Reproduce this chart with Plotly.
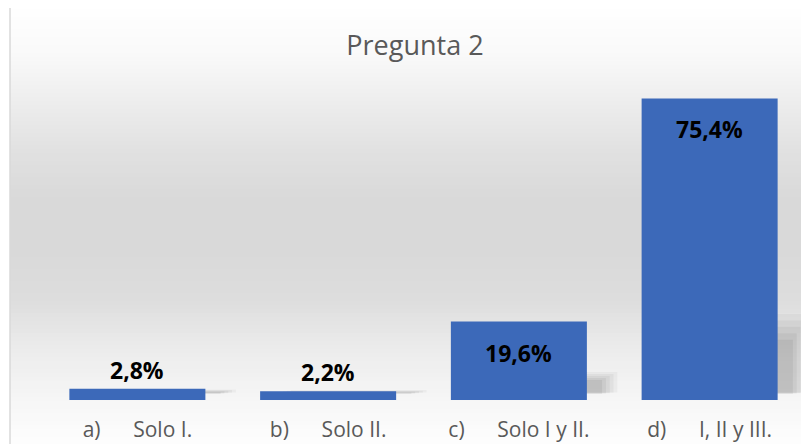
import plotly.graph_objects as go

# ---- data ----
categories = ["a)\u00a0\u00a0\u00a0\u00a0\u00a0\u00a0Solo I.",
              "b)\u00a0\u00a0\u00a0\u00a0\u00a0\u00a0Solo II.",
              "c)\u00a0\u00a0\u00a0\u00a0\u00a0\u00a0Solo I y II.",
              "d)\u00a0\u00a0\u00a0\u00a0\u00a0\u00a0I, II y III."]
values = [2.8, 2.2, 19.6, 75.4]
label_positions = ["outside", "outside", "inside", "inside"]
title_text = "Pregunta 2"

# ---- geometry (reference pixels; page body adds an 8px offset) ----
OFF = 8
W, H = 809 - OFF, 444 - OFF
ML = 42 - OFF
MT = 80 - OFF
MR = 809 - 805
MB = 444 - 400
PW = W - ML - MR
PH = H - MT - MB


def px_x(px):
    return (px - OFF - ML) / PW


def px_y(py):
    return (400 - py) / PH


def hexc(v):
    return "#%02x%02x%02x" % (v, v, v)


grad = [(5, 255), (50, 250), (100, 238), (150, 225), (200, 217), (250, 217),
        (300, 221), (350, 236), (400, 246), (433, 252), (450, 254)]


def gray_at(py):
    for (y0, g0), (y1, g1) in zip(grad[:-1], grad[1:]):
        if y0 <= py <= y1:
            t = (py - y0) / (y1 - y0)
            return int(round(g0 + (g1 - g0) * t))
    return 255


shapes = []
step = 4
py = 5
while py < 450:
    shapes.append(dict(type="rect", xref="paper", yref="paper", layer="below",
                       x0=px_x(10), x1=px_x(830), y0=px_y(py + step), y1=px_y(py),
                       fillcolor=hexc(gray_at(py + step / 2)), line=dict(width=0)))
    py += step
shapes.append(dict(type="rect", xref="paper", yref="paper", layer="below",
                   x0=px_x(10), x1=px_x(830), y0=px_y(460), y1=px_y(5.5),
                   fillcolor="rgba(0,0,0,0)", line=dict(color="#d9d9d9", width=1.5)))

fig = go.Figure()

# soft perspective shadows (layered translucent bars)
shadow_layers = [(0.26, 0.16, 1.9, 0.035), (0.24, 0.14, 1.8, 0.04), (0.22, 0.12, 1.7, 0.045),
                 (0.20, 0.10, 1.6, 0.05), (0.18, 0.08, 1.5, 0.055)]
for frac, shift, base, alpha in shadow_layers:
    fig.add_trace(go.Bar(x=categories, y=[v * frac for v in values], base=base,
                         width=0.713, offset=-0.3565 + shift,
                         marker=dict(color=f"rgba(0,0,0,{alpha})", line=dict(width=0)),
                         hoverinfo="skip", showlegend=False))

fig.add_trace(go.Bar(x=categories, y=values, width=0.713, offset=-0.3565,
                     marker=dict(color="#3c69b9", line=dict(width=0)),
                     showlegend=False))

annotations = []
for c, v, pos in zip(categories, values, label_positions):
    txt = f"{v:.1f}%".replace(".", ",")
    if pos == "outside":
        annotations.append(dict(x=c, y=v, xref="x", yref="y", text=f"<b>{txt}</b>",
                                showarrow=False, yanchor="bottom", yshift=1,
                                font=dict(family="Open Sans", size=23, color="#000000")))
    else:
        annotations.append(dict(x=c, y=v, xref="x", yref="y", text=f"<b>{txt}</b>",
                                showarrow=False, yanchor="top", yshift=-13,
                                font=dict(family="Open Sans", size=23, color="#000000")))

fig.update_layout(
    width=W, height=H,
    margin=dict(l=ML, r=MR, t=MT, b=MB, pad=0, autoexpand=False),
    paper_bgcolor="#ffffff", plot_bgcolor="rgba(0,0,0,0)",
    barmode="overlay",
    title=dict(text=title_text, x=(415 - OFF) / W, xanchor="center",
               y=1 - (46 - OFF) / H, yanchor="middle",
               font=dict(family="Open Sans", size=27, color="#595959")),
    xaxis=dict(range=[-0.5, 3.5], showgrid=False, zeroline=False, showline=False,
               ticks="", ticklabelstandoff=15, automargin=False,
               tickfont=dict(family="Open Sans", size=21, color="#595959")),
    yaxis=dict(range=[0, 80], showgrid=False, zeroline=False, showline=False,
               showticklabels=False, ticks="", automargin=False),
    shapes=shapes,
    annotations=annotations,
)

fig.write_html("out.html")
